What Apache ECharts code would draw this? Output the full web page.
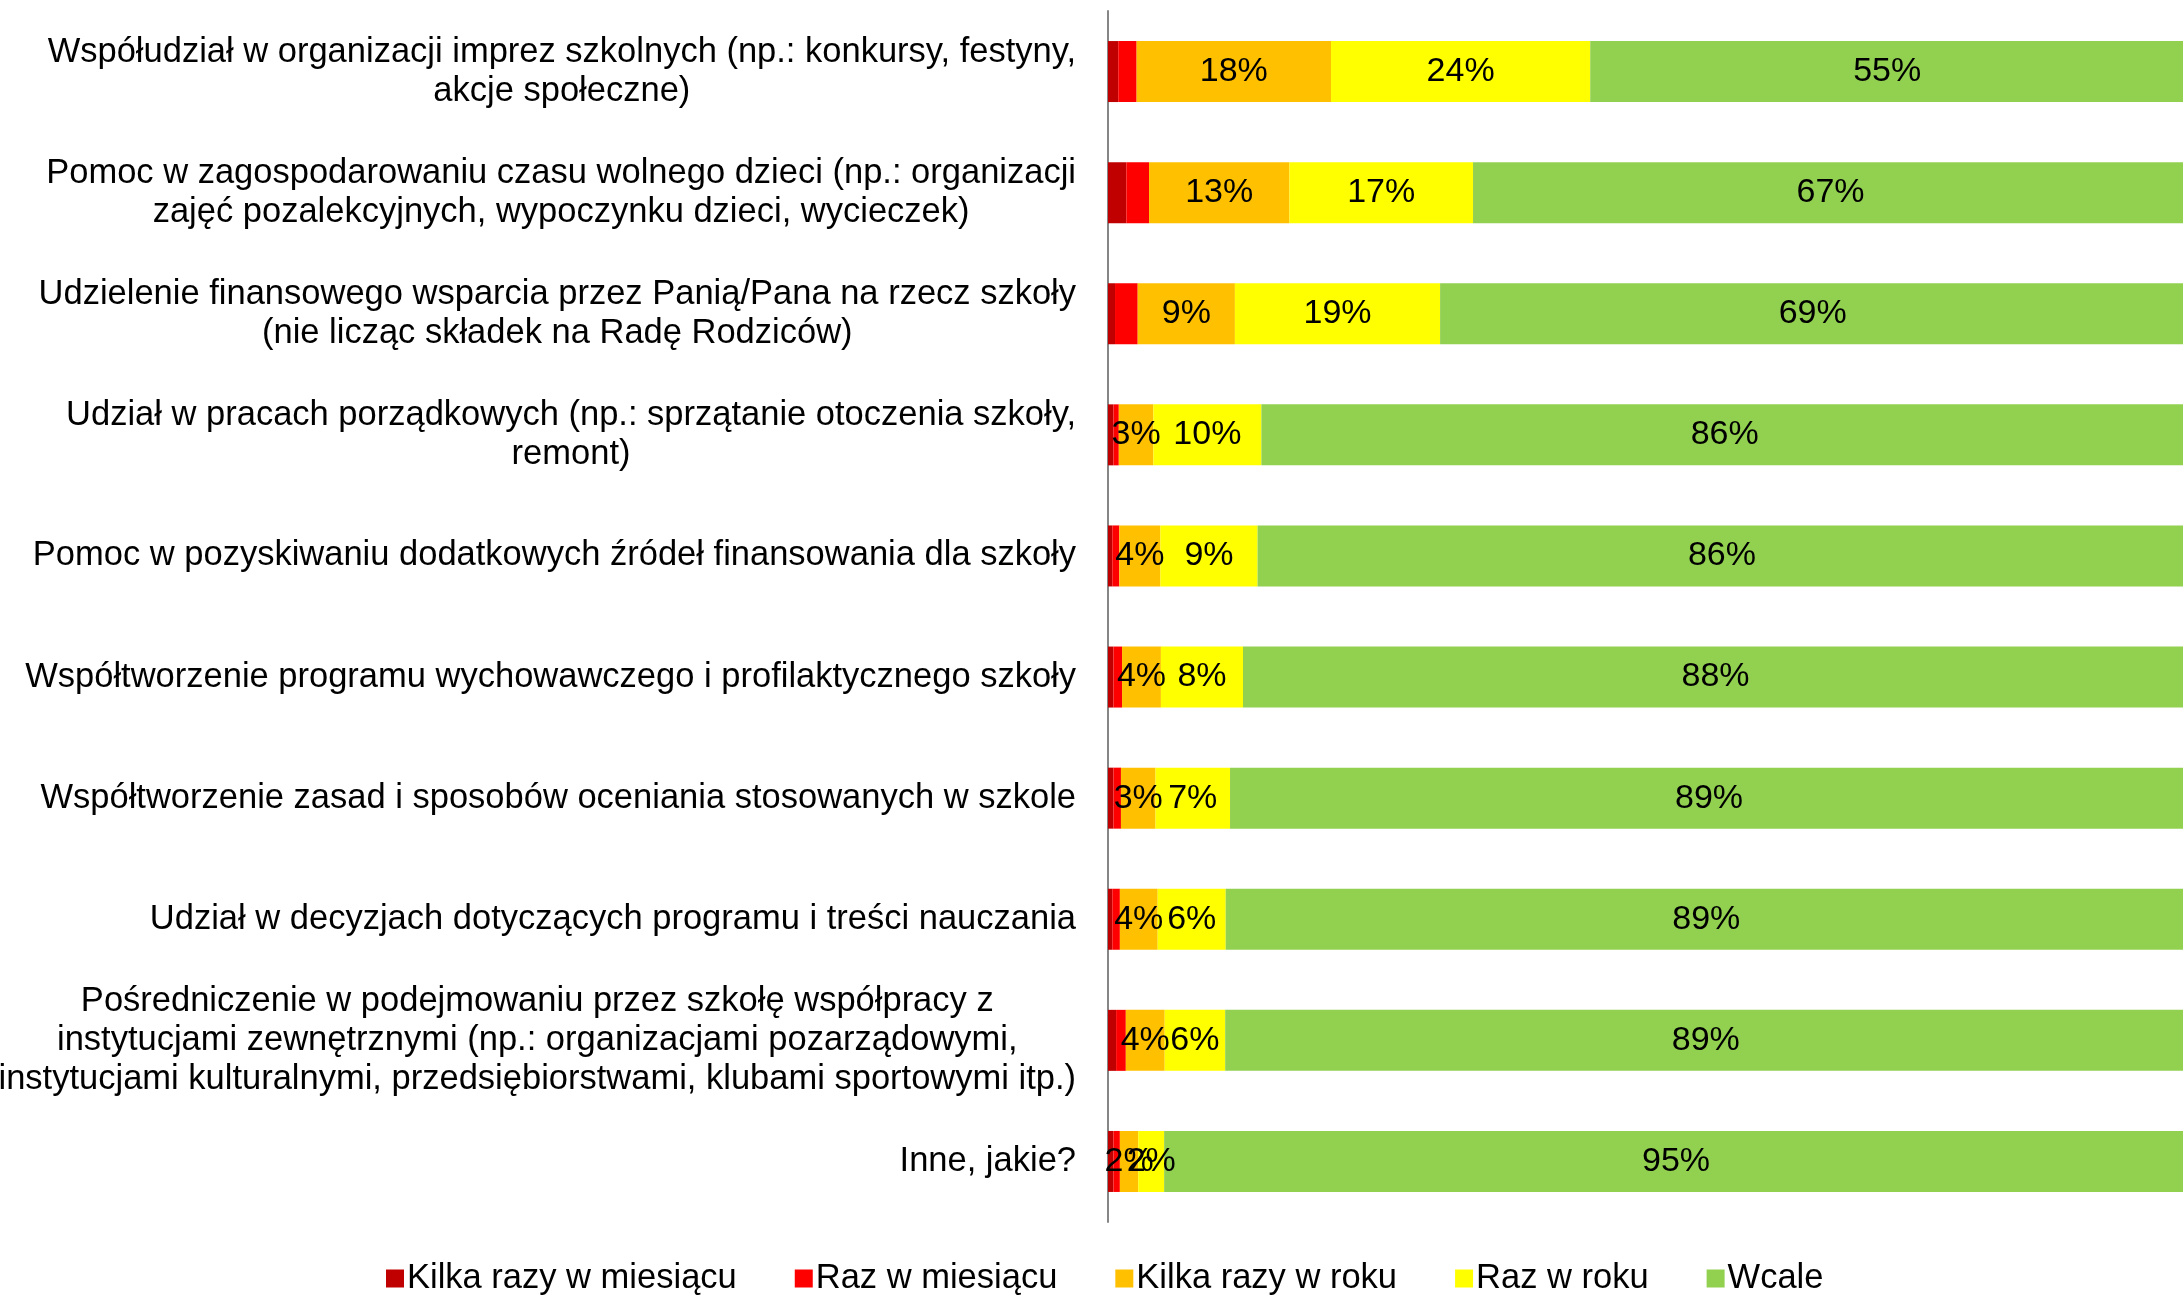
<!DOCTYPE html>
<html>
<head>
<meta charset="utf-8">
<script src="https://cdn.jsdelivr.net/npm/echarts@6/dist/echarts.min.js"></script>
<style>
  html, body { margin: 0; padding: 0; background: #fff; }
  #chart { width: 2183px; height: 1295px; }
</style>
</head>
<body>
<div id="chart"></div>
<script>
// categories, top to bottom (lines split as in the original)
const categories = [
  'Współudział w organizacji imprez szkolnych (np.: konkursy, festyny,\nakcje społeczne)',
  'Pomoc w zagospodarowaniu czasu wolnego dzieci (np.: organizacji\nzajęć pozalekcyjnych, wypoczynku dzieci, wycieczek)',
  'Udzielenie finansowego wsparcia przez Panią/Pana na rzecz szkoły\n(nie licząc składek na Radę Rodziców)',
  'Udział w pracach porządkowych (np.: sprzątanie otoczenia szkoły,\nremont)',
  'Pomoc w pozyskiwaniu dodatkowych źródeł finansowania dla szkoły',
  'Współtworzenie programu wychowawczego i profilaktycznego szkoły',
  'Współtworzenie zasad i sposobów oceniania stosowanych w szkole',
  'Udział w decyzjach dotyczących programu i treści nauczania',
  'Pośredniczenie w podejmowaniu przez szkołę współpracy z\ninstytucjami zewnętrznymi (np.: organizacjami pozarządowymi,\ninstytucjami kulturalnymi, przedsiębiorstwami, klubami sportowymi itp.)',
  'Inne, jakie?'
];

const seriesNames = ['Kilka razy w miesiącu', 'Raz w miesiącu', 'Kilka razy w roku', 'Raz w roku', 'Wcale'];
const colors = ['#C00000', '#FF0000', '#FFC000', '#FFFF00', '#92D050'];

const kilkaMiesiac = [0.95, 1.7, 0.65, 0.5, 0.4, 0.5, 0.5, 0.4, 0.75, 0.5];
const razMiesiac   = [1.7, 2.1, 2.1, 0.5, 0.65, 0.8, 0.7, 0.7, 0.9, 0.6];
const kilkaRok     = [18, 13, 9, 3.2, 3.8, 3.6, 3.2, 3.5, 3.6, 1.7];
const razRok       = [24, 17, 19, 10, 9, 7.6, 6.9, 6.3, 5.6, 2.4];
const wcale        = [55, 67, 69, 86, 86, 88, 89, 89, 89, 95];

const values = [kilkaMiesiac, razMiesiac, kilkaRok, razRok, wcale];
const FONT = '"Liberation Sans", Arial, sans-serif';

const chart = echarts.init(document.getElementById('chart'));

const series = seriesNames.map((name, i) => ({
  name: name,
  type: 'bar',
  stack: 'total',
  barWidth: 61,
  data: values[i],
  itemStyle: { color: colors[i] },
  label: {
    show: i >= 2,
    position: 'inside',
    color: '#000',
    fontFamily: FONT,
    fontSize: 34,
    formatter: p => Math.round(p.value) + '%'
  },
  emphasis: { disabled: true }
}));

chart.setOption({
  animation: false,
  grid: { left: 1108, right: -5, top: 11, bottom: 73, containLabel: false, outerBoundsMode: 'none' },
  legend: {
    data: seriesNames,
    bottom: -6,
    left: 381,
    icon: 'rect',
    itemWidth: 18,
    itemHeight: 18,
    itemGap: 58,
    textStyle: { fontFamily: FONT, fontSize: 34.5, color: '#000', padding: [0, 0, 0, -2] }
  },
  xAxis: {
    type: 'value',
    min: 0,
    max: 100,
    show: false
  },
  yAxis: {
    type: 'category',
    inverse: true,
    data: categories,
    axisLine: { show: true, lineStyle: { color: '#868686', width: 2 } },
    axisTick: { show: false },
    axisLabel: {
      interval: 0,
      margin: 32,
      align: 'right',
      formatter: v => '{c|' + v.split('\n').join('}\n{c|') + '}',
      rich: {
        c: { align: 'center', fontFamily: FONT, fontSize: 34.5, lineHeight: 39, color: '#000' }
      }
    }
  },
  series: series
});
</script>
</body>
</html>
